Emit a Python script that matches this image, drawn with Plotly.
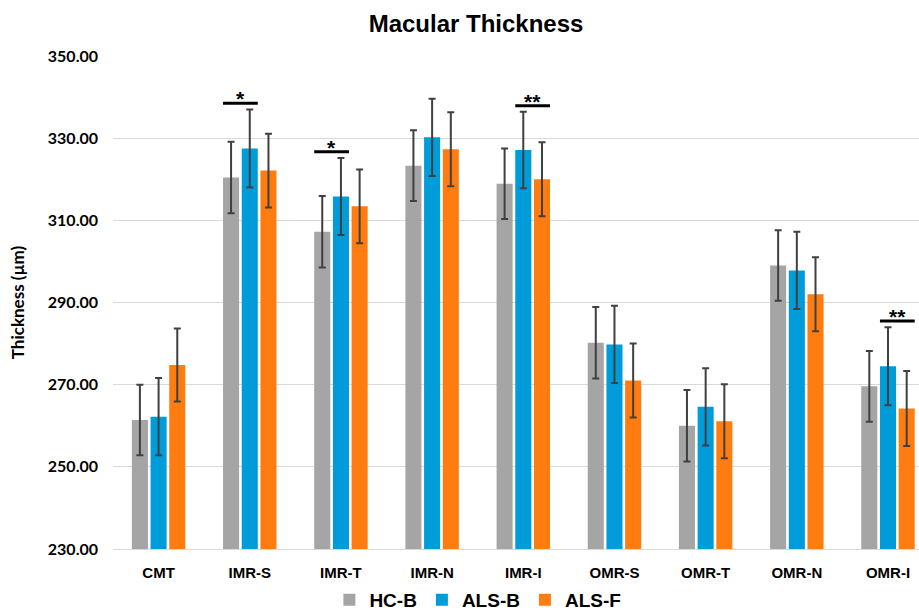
import plotly.graph_objects as go

categories = ["CMT", "IMR-S", "IMR-T", "IMR-N", "IMR-I", "OMR-S", "OMR-T", "OMR-N", "OMR-I"]
series_names = ["HC-B", "ALS-B", "ALS-F"]
hc_b = [261.4, 320.4, 307.2, 323.3, 318.9, 280.2, 260.0, 299.0, 269.6]
hc_b_sd = [8.6, 8.7, 8.7, 8.6, 8.6, 8.7, 8.7, 8.6, 8.6]
als_b = [262.2, 327.5, 315.8, 330.2, 327.1, 279.8, 264.6, 297.8, 274.5]
als_b_sd = [9.4, 9.5, 9.4, 9.4, 9.3, 9.4, 9.4, 9.4, 9.5]
als_f = [274.8, 322.1, 313.4, 327.3, 320.0, 271.0, 261.1, 292.0, 264.2]
als_f_sd = [8.9, 9.0, 9.0, 9.0, 9.0, 9.0, 9.0, 9.0, 9.1]
colors = ["#A5A5A5", "#009CDA", "#FF7D10"]
y_ticks = [230, 250, 270, 290, 310, 330, 350]

# significance: (category, first series index, last series index, label)
significance = [("IMR-S", 0, 1, "*"), ("IMR-T", 0, 1, "*"), ("IMR-I", 1, 2, "**"), ("OMR-I", 1, 2, "**")]

values = [hc_b, als_b, als_f]
sds = [hc_b_sd, als_b_sd, als_f_sd]

bargap = 0.385
bargroupgap = 0.14

fig = go.Figure()
for name, vals, sd, col in zip(series_names, values, sds, colors):
    fig.add_trace(go.Bar(
        name=name, x=categories, y=vals, marker_color=col,
        marker_line_width=0,
        error_y=dict(type="data", array=sd, visible=True, color="#404040", thickness=2, width=3.5),
    ))

n = len(series_names)
slot = (1 - bargap) / n
bw = slot * (1 - bargroupgap)
for cat, i, j, label in significance:
    c = categories.index(cat)
    x0 = c + (i - (n - 1) / 2) * slot - bw / 2
    x1 = c + (j - (n - 1) / 2) * slot + bw / 2
    ytop = max(values[k][c] + sds[k][c] for k in range(i, j + 1)) + 1.5
    fig.add_shape(type="line", xref="x", yref="y", x0=x0, x1=x1, y0=ytop, y1=ytop,
                  line=dict(color="black", width=3))
    fig.add_annotation(x=(x0 + x1) / 2, y=ytop, xref="x", yref="y", text="<b>" + label + "</b>",
                       showarrow=False, yanchor="bottom", yshift=-9,
                       font=dict(size=21, color="black", family="Liberation Sans, Arial"))

fig.update_layout(
    width=919, height=610,
    margin=dict(l=113, r=0, t=56, b=61, autoexpand=False),
    paper_bgcolor="white", plot_bgcolor="white",
    barmode="group", bargap=bargap, bargroupgap=bargroupgap,
    title=dict(text="<b>Macular Thickness</b>", x=0.518, xanchor="center", y=1 - 24 / 610,
               yanchor="middle", yref="container",
               font=dict(size=24, color="black", family="Liberation Sans, Arial")),
    showlegend=True,
    legend=dict(orientation="h", x=0.52, xref="container", xanchor="center",
                y=1 - 600 / 610, yref="container", yanchor="middle",
                font=dict(size=19, color="black", family="Liberation Sans, Arial", weight="bold"),
                itemwidth=30, traceorder="normal"),
    xaxis=dict(range=[-0.5, 8.34], showgrid=False, showline=True, linecolor="#D9D9D9", linewidth=1,
               ticks="", ticklabelstandoff=10, automargin=False,
               tickfont=dict(size=15, color="black", family="Liberation Sans, Arial", weight="bold")),
    yaxis=dict(range=[230, 350], tickvals=y_ticks, tickformat=".2f", showgrid=True,
               gridcolor="#D9D9D9", gridwidth=1, zeroline=False, showline=False, ticks="",
               ticklabelstandoff=14, automargin=False,
               tickfont=dict(size=16, color="black", family="Lato", weight="bold"),
               title=dict(text="Thickness (µm)", standoff=18,
                          font=dict(size=17, color="black", family="Lato", weight="bold"))),
)

fig.write_html("out.html", config={"displayModeBar": False},
               post_script="document.body.style.margin='0';document.body.style.overflow='hidden';")
